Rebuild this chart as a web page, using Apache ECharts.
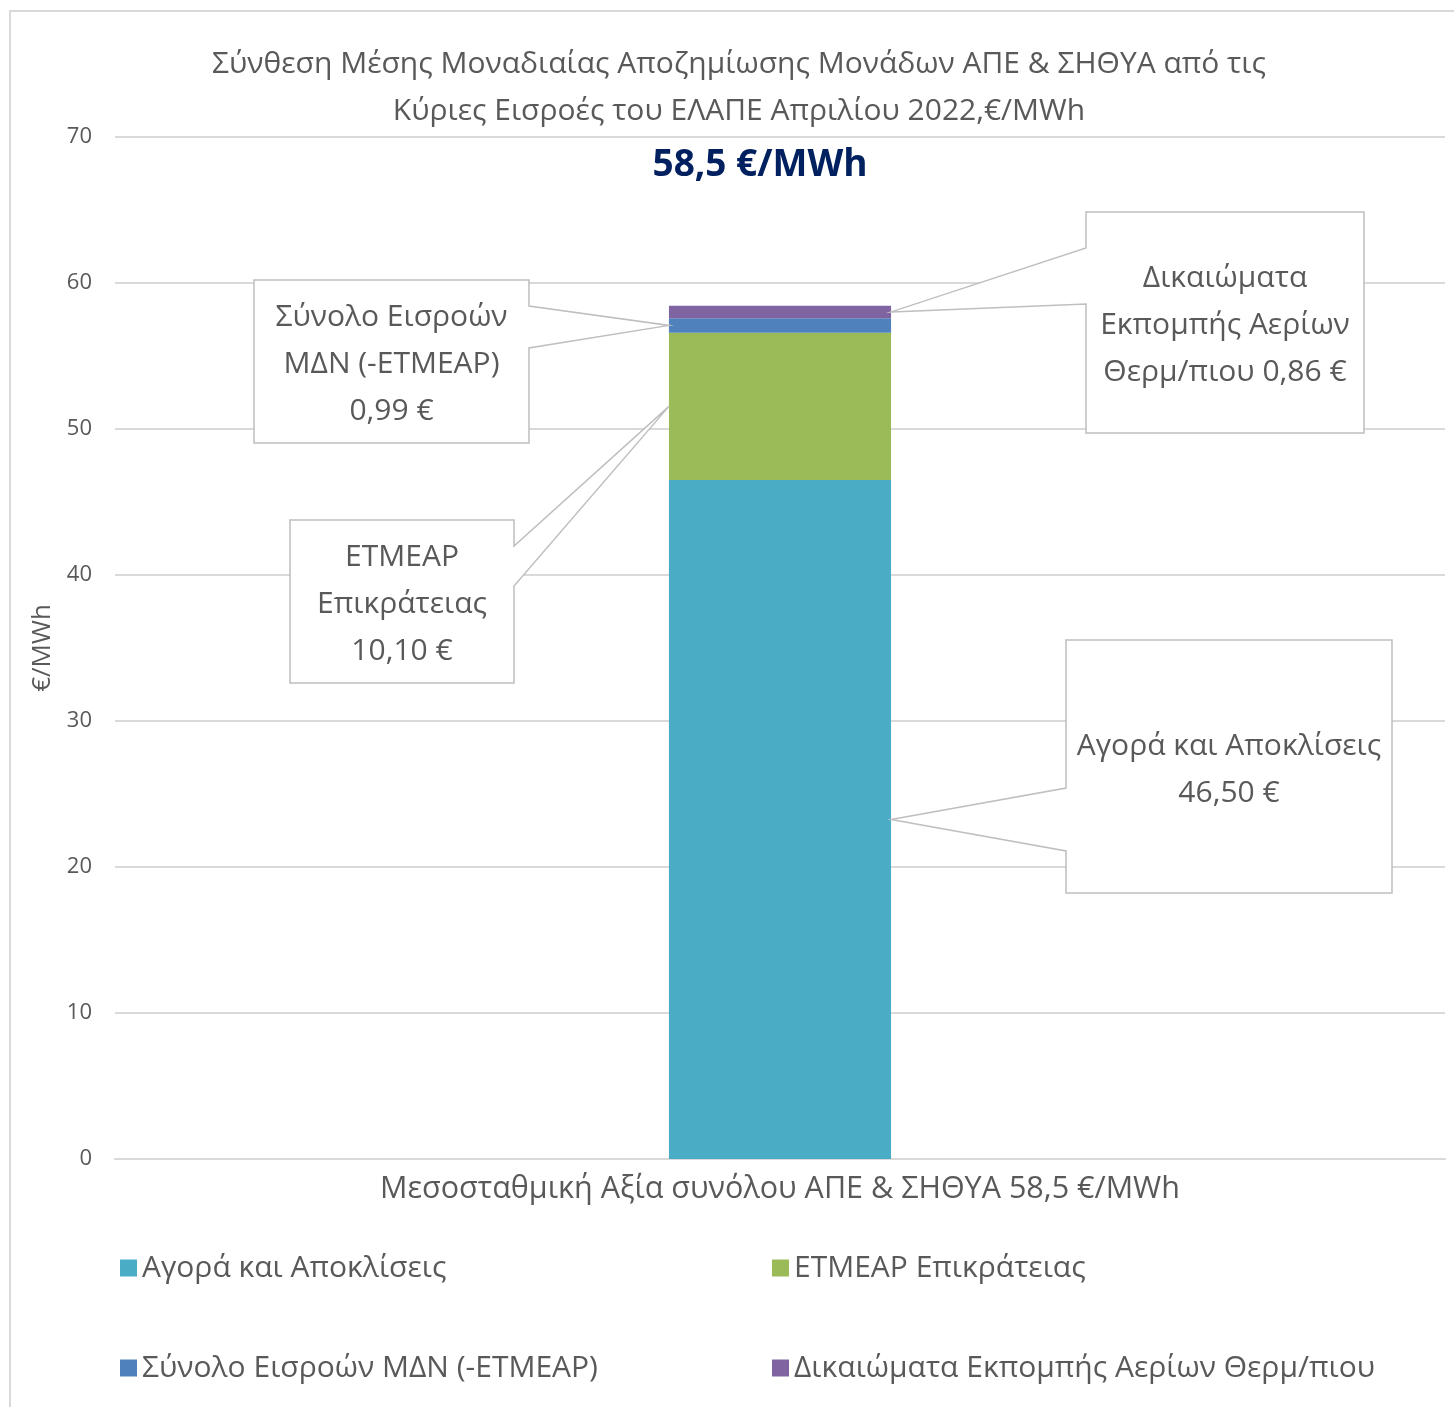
<!DOCTYPE html>
<html>
<head>
<meta charset="utf-8">
<script src="https://cdn.jsdelivr.net/npm/echarts@6/dist/echarts.min.js"></script>
<style>
html,body{margin:0;padding:0;background:#fff;}
#chart{width:1454px;height:1407px;}
</style>
</head>
<body>
<div id="chart"></div>
<script>
// ---- data ----
const categories = ['Μεσοσταθμική Αξία συνόλου ΑΠΕ & ΣΗΘΥΑ 58,5 €/MWh'];
const seriesNames = [
  'Αγορά και Αποκλίσεις',
  'ΕΤΜΕΑΡ Επικράτειας',
  'Σύνολο Εισροών ΜΔΝ (-ΕΤΜΕΑΡ)',
  'Δικαιώματα Εκπομπής Αερίων Θερμ/πιου'
];
const agoraValues = [46.50];
const etmearValues = [10.10];
const manValues = [0.99];
const dikaiomataValues = [0.86];
const calloutTitles = [
  ['Αγορά και Αποκλίσεις'],
  ['ΕΤΜΕΑΡ', 'Επικράτειας'],
  ['Σύνολο Εισροών', 'ΜΔΝ (-ΕΤΜΕΑΡ)'],
  ['Δικαιώματα', 'Εκπομπής Αερίων', 'Θερμ/πιου']
];
const yMin = 0, yMax = 70, yInterval = 10;
const titleText = 'Σύνθεση Μέσης Μοναδιαίας Αποζημίωσης Μονάδων ΑΠΕ & ΣΗΘΥΑ από τις\nΚύριες Εισροές του ΕΛΑΠΕ Απριλίου 2022,€/MWh';
const totalText = '58,5 €/MWh';
const yAxisName = '€/MWh';

const colors = ['#4BACC6', '#9BBB59', '#4F81BD', '#8064A2'];
const seriesValues = [agoraValues, etmearValues, manValues, dikaiomataValues];
const FONT = '"Open Sans", "Noto Sans", sans-serif';
const TXT = '#595959';

const chart = echarts.init(document.getElementById('chart'), null, {renderer: 'canvas'});

const option = {
  animation: false,
  backgroundColor: '#ffffff',
  title: [
    {
      text: titleText, left: 734, textAlign: 'center', top: 36,
      textStyle: {fontFamily: FONT, fontSize: 30, fontWeight: 'normal', color: TXT, lineHeight: 47}
    },
    {
      text: totalText, left: 755, textAlign: 'center', top: 142,
      textStyle: {fontFamily: FONT, fontSize: 37, fontWeight: 'bold', color: '#002060'}
    }
  ],
  grid: {left: 115, right: 9, top: 137, bottom: 248, containLabel: false},
  legend: [
    {
      orient: 'vertical', left: 115, top: 1243, itemGap: 60,
      itemWidth: 17, itemHeight: 17, icon: 'rect',
      data: [seriesNames[0], seriesNames[2]],
      textStyle: {fontFamily: FONT, fontSize: 30, color: TXT, lineHeight: 40}
    },
    {
      orient: 'vertical', left: 767, top: 1243, itemGap: 60,
      itemWidth: 17, itemHeight: 17, icon: 'rect',
      data: [seriesNames[1], seriesNames[3]],
      textStyle: {fontFamily: FONT, fontSize: 30, color: TXT, lineHeight: 40}
    }
  ],
  xAxis: {
    type: 'category', data: categories,
    axisLine: {show: true, lineStyle: {color: '#d9d9d9', width: 2}},
    axisTick: {show: false},
    axisLabel: {fontFamily: FONT, fontSize: 30.5, color: TXT, margin: 15}
  },
  yAxis: {
    type: 'value', min: yMin, max: yMax, interval: yInterval,
    name: yAxisName, nameLocation: 'middle', nameGap: 58, nameRotate: 90,
    nameTextStyle: {fontFamily: FONT, fontSize: 26, color: TXT},
    axisLine: {show: false}, axisTick: {show: false},
    axisLabel: {fontFamily: FONT, fontSize: 22, color: TXT, margin: 23},
    splitLine: {lineStyle: {color: '#d9d9d9', width: 2}}
  },
  series: seriesNames.map((n, i) => ({
    name: n, type: 'bar', stack: 'total', barWidth: '16.7%',
    data: seriesValues[i], itemStyle: {color: colors[i]}
  }))
};
chart.setOption(option);

// ---- callouts (box positions are layout; anchors come from the bar layout) ----
function fmt(v) { return v.toFixed(2).replace('.', ',') + ' €'; }
function barRect(i) {
  try {
    const l = chart.getModel().getSeriesByIndex(i).getData().getItemLayout(0);
    return {x0: l.x, x1: l.x + l.width, y0: Math.min(l.y, l.y + l.height), y1: Math.max(l.y, l.y + l.height)};
  } catch (e) { return null; }
}
// box: [x0, y0, x1, y1], side of the bar the anchor sits on, wedge base ys
const calloutLayout = [
  {box: [1066, 640, 1392, 893], side: 'right', wedge: [788, 851], lines: [calloutTitles[0][0], fmt(agoraValues[0])]},
  {box: [290, 520, 514, 683], side: 'left', wedge: [546, 586], lines: [calloutTitles[1][0], calloutTitles[1][1], fmt(etmearValues[0])]},
  {box: [254, 280, 529, 443], side: 'left', wedge: [306, 348], lines: [calloutTitles[2][0], calloutTitles[2][1], fmt(manValues[0])]},
  {box: [1086, 212, 1364, 433], side: 'right', wedge: [248, 304], lines: [calloutTitles[3][0], calloutTitles[3][1], calloutTitles[3][2] + ' ' + fmt(dikaiomataValues[0])]}
];
const graphics = [{
  type: 'rect', z: 0, silent: true,
  shape: {x: 10, y: 11, width: 1460, height: 1420},
  style: {fill: 'none', stroke: '#d9d9d9', lineWidth: 2}
}];
calloutLayout.forEach((c, i) => {
  const r = barRect(i);
  if (!r) return;
  const ay = (r.y0 + r.y1) / 2;
  const ax = c.side === 'right' ? r.x1 : r.x0;
  const [x0, y0, x1, y1] = c.box;
  let pts;
  if (c.side === 'right') {
    pts = [[x0, y0], [x1, y0], [x1, y1], [x0, y1], [x0, c.wedge[1]], [ax, ay], [x0, c.wedge[0]]];
  } else {
    pts = [[x0, y0], [x1, y0], [x1, c.wedge[0]], [ax, ay], [x1, c.wedge[1]], [x1, y1], [x0, y1]];
  }
  graphics.push({
    type: 'polygon', z: 100, silent: true,
    shape: {points: pts},
    style: {fill: '#ffffff', stroke: '#bfbfbf', lineWidth: 1.5}
  });
  graphics.push({
    type: 'text', z: 101, silent: true,
    x: (x0 + x1) / 2, y: (y0 + y1) / 2 + 3,
    style: {
      text: c.lines.join('\n'), fontFamily: FONT, fontSize: 30, fill: TXT,
      lineHeight: 47, align: 'center', verticalAlign: 'middle',
      textAlign: 'center', textVerticalAlign: 'middle'
    }
  });
});
chart.setOption({graphic: graphics});
</script>
</body>
</html>
